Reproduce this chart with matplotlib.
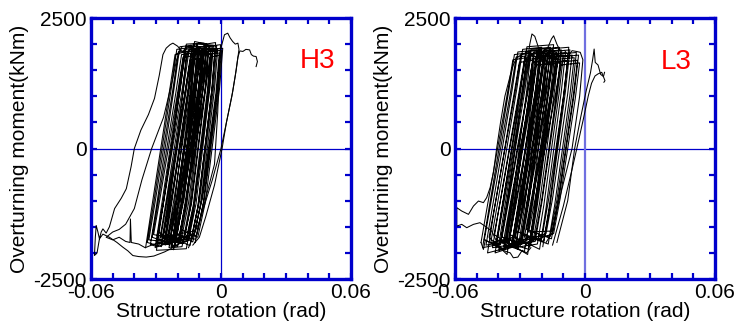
import matplotlib
matplotlib.use('Agg')
import matplotlib.pyplot as plt

plt.rcParams['font.family'] = ['Liberation Sans', 'DejaVu Sans']

# ---------------- tick values / labels ----------------
x_ticks = [-0.06, -0.05, -0.04, -0.03, -0.02, -0.01, 0.0, 0.01, 0.02, 0.03, 0.04, 0.05, 0.06]
x_tick_labels = ['-0.06', '', '', '', '', '', '0', '', '', '', '', '', '0.06']
y_ticks = [-2500, -2000, -1500, -1000, -500, 0, 500, 1000, 1500, 2000, 2500]
y_tick_labels = ['-2500', '', '', '', '', '0', '', '', '', '', '2500']

panel_names = ['H3', 'L3']
x_label = 'Structure rotation (rad)'
y_label = 'Overturning moment(kNm)'

# ---------------- H3 : cycles (rotation rad, moment kNm) ----------------
H3_cyc_x = [
    [-0.0348, -0.0320, -0.0238, -0.0212, -0.0160, -0.0175, -0.0240, -0.0275],
    [-0.0340, -0.0312, -0.0230, -0.0204, -0.0135, -0.0150, -0.0215, -0.0250],
    [-0.0333, -0.0305, -0.0223, -0.0197, -0.0120, -0.0135, -0.0200, -0.0235],
    [-0.0326, -0.0298, -0.0216, -0.0190, -0.0110, -0.0125, -0.0190, -0.0225],
    [-0.0318, -0.0290, -0.0208, -0.0182, -0.0100, -0.0115, -0.0180, -0.0215],
    [-0.0311, -0.0283, -0.0201, -0.0175, -0.0125, -0.0140, -0.0205, -0.0240],
    [-0.0304, -0.0276, -0.0194, -0.0168, -0.0085, -0.0100, -0.0165, -0.0200],
    [-0.0296, -0.0268, -0.0186, -0.0160, -0.0078, -0.0093, -0.0158, -0.0193],
    [-0.0290, -0.0262, -0.0180, -0.0154, -0.0090, -0.0105, -0.0170, -0.0205],
    [-0.0283, -0.0255, -0.0173, -0.0147, -0.0070, -0.0085, -0.0150, -0.0185],
    [-0.0276, -0.0248, -0.0166, -0.0140, -0.0060, -0.0075, -0.0140, -0.0175],
    [-0.0268, -0.0240, -0.0158, -0.0132, -0.0055, -0.0070, -0.0135, -0.0170],
    [-0.0262, -0.0234, -0.0152, -0.0126, -0.0048, -0.0063, -0.0128, -0.0163],
    [-0.0256, -0.0228, -0.0146, -0.0120, -0.0040, -0.0055, -0.0120, -0.0155],
    [-0.0248, -0.0220, -0.0138, -0.0112, -0.0035, -0.0050, -0.0115, -0.0150],
    [-0.0240, -0.0212, -0.0130, -0.0104, -0.0028, -0.0043, -0.0108, -0.0143],
    [-0.0233, -0.0205, -0.0123, -0.0097, -0.0020, -0.0035, -0.0100, -0.0135],
    [-0.0226, -0.0198, -0.0116, -0.0090, -0.0015, -0.0030, -0.0095, -0.0130],
    [-0.0218, -0.0190, -0.0108, -0.0082, -0.0008, -0.0023, -0.0088, -0.0123],
    [-0.0210, -0.0182, -0.0100, -0.0074, -0.0002, -0.0017, -0.0082, -0.0117],
    [-0.0203, -0.0175, -0.0093, -0.0067, 0.0002, -0.0013, -0.0078, -0.0113],
    [-0.0193, -0.0165, -0.0083, -0.0057, 0.0008, -0.0007, -0.0072, -0.0107],
    [-0.0186, -0.0158, -0.0076, -0.0050, -0.0005, -0.0020, -0.0085, -0.0120],
    [-0.0278, -0.0250, -0.0168, -0.0142, -0.0080, -0.0095, -0.0160, -0.0195],
    [-0.0258, -0.0230, -0.0148, -0.0122, -0.0065, -0.0080, -0.0145, -0.0180],
    [-0.0228, -0.0200, -0.0118, -0.0092, -0.0045, -0.0060, -0.0125, -0.0160],
    [-0.0298, -0.0270, -0.0188, -0.0162, -0.0105, -0.0120, -0.0185, -0.0220],
    [-0.0208, -0.0180, -0.0098, -0.0072, -0.0025, -0.0040, -0.0105, -0.0140],
]
H3_cyc_y = [
    [-1900, -1140, 1080, 1800, 1860, 1080, -1140, -1880],
    [-1800, -1080, 1140, 1900, 1940, 1140, -1080, -1790],
    [-1750, -1050, 1110, 1850, 1880, 1110, -1050, -1760],
    [-1850, -1110, 1170, 1950, 1990, 1170, -1110, -1830],
    [-1700, -1020, 1080, 1800, 1840, 1080, -1020, -1720],
    [-1650, -990, 1050, 1750, 1780, 1050, -990, -1680],
    [-1900, -1140, 1140, 1900, 1930, 1140, -1140, -1870],
    [-1800, -1080, 1200, 2000, 2020, 1200, -1080, -1820],
    [-1600, -960, 1110, 1850, 1870, 1110, -960, -1640],
    [-1750, -1050, 1140, 1900, 1920, 1140, -1050, -1770],
    [-1850, -1110, 1080, 1800, 1850, 1080, -1110, -1820],
    [-1700, -1020, 1170, 1950, 1960, 1170, -1020, -1730],
    [-1800, -1080, 1110, 1850, 1900, 1110, -1080, -1790],
    [-1650, -990, 1140, 1900, 1930, 1140, -990, -1680],
    [-1750, -1050, 1200, 2000, 1980, 1200, -1050, -1760],
    [-1900, -1140, 1110, 1850, 1880, 1110, -1140, -1860],
    [-1700, -1020, 1170, 1950, 1970, 1170, -1020, -1720],
    [-1800, -1080, 1140, 1900, 1910, 1140, -1080, -1790],
    [-1600, -960, 1080, 1800, 1830, 1080, -960, -1630],
    [-1750, -1050, 1170, 1950, 1990, 1170, -1050, -1740],
    [-1650, -990, 1110, 1850, 1880, 1110, -990, -1660],
    [-1700, -1020, 1140, 1900, 1920, 1140, -1020, -1700],
    [-1550, -930, 1050, 1750, 1790, 1050, -930, -1580],
    [-1700, -1020, 1020, 1700, 1730, 1020, -1020, -1720],
    [-1850, -1110, 1230, 2050, 2000, 1230, -1110, -1880],
    [-1900, -1140, 1080, 1800, 1820, 1080, -1140, -1920],
    [-1950, -1170, 1170, 1950, 1960, 1170, -1170, -1940],
    [-1800, -1080, 1200, 2000, 2030, 1200, -1080, -1780],
]

# H3 : isolated excursions
H3_out_x = [
    [-0.0200, -0.0260, -0.0310, -0.0345, -0.0380, -0.0407, -0.0430, -0.0453, -0.0480, -0.0515,
     -0.0545, -0.0561, -0.0572, -0.0584, -0.0580, -0.0576, -0.0568, -0.0561, -0.0553, -0.0545,
     -0.0530, -0.0515, -0.0491, -0.0460, -0.0437, -0.0415, -0.0400, -0.0370, -0.0335, -0.0307,
     -0.0285, -0.0268, -0.0253, -0.0235, -0.0222, -0.0200, -0.0185, -0.0176, -0.0160, -0.0140,
     -0.0120, -0.0135, -0.0200, -0.0240],
    [-0.0180, -0.0205, -0.0225, -0.0265, -0.0320, -0.0365, -0.0400, -0.0440, -0.0470, -0.0500,
     -0.0530, -0.0500, -0.0470, -0.0440, -0.0420, -0.0418, -0.0414, -0.0380, -0.0350, -0.0320,
     -0.0290, -0.0260],
    [-0.0120, -0.0080, -0.0030, -0.0015, -0.0008, -0.0002, 0.0016, 0.0031, 0.0042, 0.0054,
     0.0066, 0.0078, 0.0083, 0.0070, 0.0050, 0.0025, 0.0005, -0.0030, -0.0070, -0.0100,
     -0.0130],
    [-0.0150, -0.0100, -0.0040, 0.0000, 0.0030, 0.0054, 0.0066, 0.0078, 0.0087, 0.0101,
     0.0115, 0.0132, 0.0140, 0.0150, 0.0162, 0.0168, 0.0162],
]
H3_out_y = [
    [-1850, -1980, -2060, -2080, -2070, -2050, -1960, -1890, -1800, -1700,
     -1640, -1730, -2000, -2050, -1700, -1475, -1600, -1730, -1600, -1540,
     -1620, -1500, -1150, -950, -770, -350, 0, 350, 650, 960,
     1400, 1800, 1923, 1990, 2019, 1960, 1880, 1860, 1950, 1980,
     1900, 1100, -1100, -1800],
    [1950, 1700, 1300, 600, 0, -600, -1150, -1450, -1550, -1600,
     -1700, -1750, -1700, -1780, -1800, -1350, -1800, -1830, -1900, -1850,
     -1880, -1820],
    [-1800, -1100, -300, 700, 1500, 1900, 2180, 2210, 2120, 2050,
     2000, 2019, 1900, 1500, 1000, 500, 0, -700, -1300, -1700,
     -1850],
    [-1900, -1400, -600, 0, 600, 1090, 1400, 1750, 1870, 1860,
     1900, 1890, 1800, 1770, 1763, 1667, 1570],
]

# ---------------- L3 : cycles ----------------
L3_cyc_x = [
    [-0.0480, -0.0450, -0.0360, -0.0333, -0.0270, -0.0290, -0.0360, -0.0390],
    [-0.0473, -0.0443, -0.0353, -0.0326, -0.0250, -0.0270, -0.0340, -0.0370],
    [-0.0465, -0.0435, -0.0345, -0.0318, -0.0235, -0.0255, -0.0325, -0.0355],
    [-0.0457, -0.0427, -0.0337, -0.0310, -0.0220, -0.0240, -0.0310, -0.0340],
    [-0.0450, -0.0420, -0.0330, -0.0303, -0.0240, -0.0260, -0.0330, -0.0360],
    [-0.0443, -0.0413, -0.0323, -0.0296, -0.0210, -0.0230, -0.0300, -0.0330],
    [-0.0435, -0.0405, -0.0315, -0.0288, -0.0200, -0.0220, -0.0290, -0.0320],
    [-0.0427, -0.0397, -0.0307, -0.0280, -0.0190, -0.0210, -0.0280, -0.0310],
    [-0.0420, -0.0390, -0.0300, -0.0273, -0.0205, -0.0225, -0.0295, -0.0325],
    [-0.0413, -0.0383, -0.0293, -0.0266, -0.0180, -0.0200, -0.0270, -0.0300],
    [-0.0405, -0.0375, -0.0285, -0.0258, -0.0170, -0.0190, -0.0260, -0.0290],
    [-0.0397, -0.0367, -0.0277, -0.0250, -0.0160, -0.0180, -0.0250, -0.0280],
    [-0.0390, -0.0360, -0.0270, -0.0243, -0.0175, -0.0195, -0.0265, -0.0295],
    [-0.0383, -0.0353, -0.0263, -0.0236, -0.0150, -0.0170, -0.0240, -0.0270],
    [-0.0375, -0.0345, -0.0255, -0.0228, -0.0140, -0.0160, -0.0230, -0.0260],
    [-0.0367, -0.0337, -0.0247, -0.0220, -0.0130, -0.0150, -0.0220, -0.0250],
    [-0.0360, -0.0330, -0.0240, -0.0213, -0.0120, -0.0140, -0.0210, -0.0240],
    [-0.0353, -0.0323, -0.0233, -0.0206, -0.0135, -0.0155, -0.0225, -0.0255],
    [-0.0345, -0.0315, -0.0225, -0.0198, -0.0110, -0.0130, -0.0200, -0.0230],
    [-0.0337, -0.0307, -0.0217, -0.0190, -0.0100, -0.0120, -0.0190, -0.0220],
    [-0.0330, -0.0300, -0.0210, -0.0183, -0.0090, -0.0110, -0.0180, -0.0210],
    [-0.0323, -0.0293, -0.0203, -0.0176, -0.0080, -0.0100, -0.0170, -0.0200],
    [-0.0315, -0.0285, -0.0195, -0.0168, -0.0070, -0.0090, -0.0160, -0.0190],
    [-0.0307, -0.0277, -0.0187, -0.0160, -0.0060, -0.0080, -0.0150, -0.0180],
    [-0.0300, -0.0270, -0.0180, -0.0153, -0.0050, -0.0070, -0.0140, -0.0170],
    [-0.0290, -0.0260, -0.0170, -0.0143, -0.0040, -0.0060, -0.0130, -0.0160],
    [-0.0280, -0.0250, -0.0160, -0.0133, -0.0035, -0.0055, -0.0125, -0.0155],
    [-0.0270, -0.0240, -0.0150, -0.0123, -0.0030, -0.0050, -0.0120, -0.0150],
    [-0.0260, -0.0230, -0.0140, -0.0113, -0.0025, -0.0045, -0.0115, -0.0145],
    [-0.0415, -0.0385, -0.0295, -0.0268, -0.0145, -0.0165, -0.0235, -0.0265],
    [-0.0375, -0.0345, -0.0255, -0.0228, -0.0110, -0.0130, -0.0200, -0.0230],
    [-0.0335, -0.0305, -0.0215, -0.0188, -0.0075, -0.0095, -0.0165, -0.0195],
]
L3_cyc_y = [
    [-1800, -1080, 1020, 1700, 1740, 1020, -1080, -1830],
    [-1900, -1140, 1080, 1800, 1840, 1080, -1140, -1930],
    [-1750, -1050, 1050, 1750, 1790, 1050, -1050, -1780],
    [-1850, -1110, 1110, 1850, 1890, 1110, -1110, -1880],
    [-2000, -1200, 990, 1650, 1690, 990, -1200, -2030],
    [-1700, -1020, 1080, 1800, 1840, 1080, -1020, -1730],
    [-1800, -1080, 1140, 1900, 1940, 1140, -1080, -1830],
    [-1900, -1140, 1020, 1700, 1740, 1020, -1140, -1930],
    [-1650, -990, 1110, 1850, 1890, 1110, -990, -1680],
    [-1850, -1110, 1050, 1750, 1790, 1050, -1110, -1880],
    [-1750, -1050, 1080, 1800, 1840, 1080, -1050, -1780],
    [-1950, -1170, 1140, 1900, 1940, 1140, -1170, -1980],
    [-1800, -1080, 990, 1650, 1690, 990, -1080, -1830],
    [-1700, -1020, 1110, 1850, 1890, 1110, -1020, -1730],
    [-1900, -1140, 1050, 1750, 1790, 1050, -1140, -1930],
    [-1800, -1080, 1080, 1800, 1840, 1080, -1080, -1830],
    [-1750, -1050, 1140, 1900, 1940, 1140, -1050, -1780],
    [-1850, -1110, 1020, 1700, 1740, 1020, -1110, -1880],
    [-1650, -990, 1110, 1850, 1890, 1110, -990, -1680],
    [-1800, -1080, 1050, 1750, 1790, 1050, -1080, -1830],
    [-1900, -1140, 1080, 1800, 1840, 1080, -1140, -1930],
    [-1700, -1020, 990, 1650, 1690, 990, -1020, -1730],
    [-1750, -1050, 1110, 1850, 1890, 1110, -1050, -1780],
    [-1600, -960, 1050, 1750, 1790, 1050, -960, -1630],
    [-1800, -1080, 1020, 1700, 1740, 1020, -1080, -1830],
    [-1650, -990, 1080, 1800, 1840, 1080, -990, -1680],
    [-1700, -1020, 990, 1650, 1690, 990, -1020, -1730],
    [-1550, -930, 1050, 1750, 1790, 1050, -930, -1580],
    [-1600, -960, 960, 1600, 1640, 960, -960, -1630],
    [-2000, -1200, 1170, 1950, 1990, 1170, -1200, -2030],
    [-1750, -1050, 960, 1600, 1640, 960, -1050, -1780],
    [-1850, -1110, 1140, 1900, 1940, 1140, -1110, -1880],
]

L3_out_x = [
    [-0.0400, -0.0431, -0.0462, -0.0485, -0.0515, -0.0546, -0.0569, -0.0592, -0.0592, -0.0569,
     -0.0538, -0.0515, -0.0492, -0.0469, -0.0454, -0.0438, -0.0423, -0.0408, -0.0390, -0.0370,
     -0.0345, -0.0331, -0.0315, -0.0290],
    [-0.0400, -0.0370, -0.0290, -0.0265, -0.0255, -0.0245, -0.0232, -0.0220, -0.0205, -0.0190,
     -0.0170, -0.0155, -0.0145, -0.0130, -0.0115, -0.0095, -0.0075, -0.0060, -0.0040, -0.0022,
     -0.0010, -0.0025, -0.0060, -0.0120, -0.0150, -0.0180],
    [-0.0150, -0.0100, -0.0060, -0.0038, -0.0008, 0.0015, 0.0030, 0.0046, 0.0060, 0.0077,
     0.0092, 0.0087],
    [-0.0130, -0.0080, -0.0048, -0.0020, 0.0005, 0.0025, 0.0035, 0.0042, 0.0047, 0.0060,
     0.0072, 0.0085, 0.0090],
    [-0.0480, -0.0469, -0.0460, -0.0420, -0.0380, -0.0345, -0.0331, -0.0310, -0.0290, -0.0270,
     -0.0250],
]
L3_out_y = [
    [-1850, -1582, -1486, -1421, -1453, -1517, -1453, -1486, -1133, -1198,
     -1261, -1102, -1006, -1037, -941, -749, -461, 0, 500, 1000,
     1400, 1600, 1750, 1800],
    [-1900, -1100, 1000, 1700, 2000, 2195, 2150, 2000, 1800, 1850,
     1950, 2100, 2160, 2000, 1870, 1880, 1780, 1875, 1860, 1843,
     1700, 1000, 0, -1000, -1600, -1800],
    [-1850, -1100, -400, 0, 560, 1010, 1250, 1390, 1430, 1460,
     1300, 1270],
    [-1800, -1000, 0, 600, 1100, 1450, 1700, 1906, 1650, 1600,
     1420, 1380, 1460],
    [-1800, -1933, -1750, -1850, -1950, -2000, -2093, -2080, -1950, -2000,
     -1900],
]

# label position of panel names (data coords)
name_x = [0.0445, 0.0420]
name_y = [1670, 1650]

blue = '#0000CC'
fig = plt.figure(figsize=(7.44, 3.25), dpi=100)
positions = [[0.1223, 0.1415, 0.3495, 0.8030], [0.6116, 0.1415, 0.3495, 0.8030]]
cycles = [(H3_cyc_x, H3_cyc_y, H3_out_x, H3_out_y), (L3_cyc_x, L3_cyc_y, L3_out_x, L3_out_y)]
vline_colors = [blue, '#7070E0']
vline_widths = [0.9, 1.6]

for i, pos in enumerate(positions):
    ax = fig.add_axes(pos)
    cx, cy, ox, oy = cycles[i]
    px = [v for c in cx for v in c]
    py = [v for c in cy for v in c]
    ax.axhline(0, color=blue, lw=0.9, zorder=1)
    ax.axvline(0, color=vline_colors[i], lw=vline_widths[i], zorder=1)
    ax.plot(px, py, color='black', lw=0.75, zorder=2)
    for sx, sy in zip(ox, oy):
        ax.plot(sx, sy, color='black', lw=0.75, zorder=2)
    ax.set_xlim(-0.06, 0.06)
    ax.set_ylim(-2500, 2500)
    ax.set_xticks(x_ticks)
    ax.set_xticklabels(x_tick_labels)
    ax.set_yticks(y_ticks)
    ax.set_yticklabels(y_tick_labels)
    ax.tick_params(direction='in', top=True, right=True, color=blue, length=4,
                   width=1.6, labelsize=15, pad=3)
    for sp in ax.spines.values():
        sp.set_color(blue)
        sp.set_linewidth(2.4)
    ax.set_xlabel(x_label, fontsize=15)
    ax.set_ylabel(y_label, fontsize=15)
    ax.xaxis.set_label_coords(0.5, -0.088)
    ax.yaxis.set_label_coords(-0.24, 0.5)
    ax.text(name_x[i], name_y[i], panel_names[i], color='red', fontsize=20,
            ha='center', va='center')

fig.savefig('out.png', dpi=100)
